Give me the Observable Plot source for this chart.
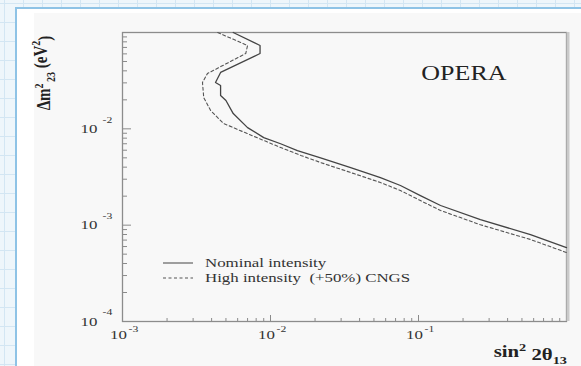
<!DOCTYPE html>
<html>
<head>
<meta charset="utf-8">
<script src="https://cdn.jsdelivr.net/npm/d3@7"></script>
<script src="https://cdn.jsdelivr.net/npm/@observablehq/plot@0.6"></script>
<style>
  html, body { margin: 0; padding: 0; }
  body {
    width: 581px; height: 366px; overflow: hidden; position: relative;
    background-color: #eef6fb;
    background-image:
      linear-gradient(#d3e6f3 1px, transparent 1px),
      linear-gradient(90deg, #d3e6f3 1px, transparent 1px);
    background-size: 19px 19px;
    background-position: 4px 3px;
  }
  #card {
    position: absolute; left: 15px; top: 7px; width: 600px; height: 400px;
    background: #fff; border-left: 2px solid #8ec3e6; border-top: 2px solid #8ec3e6;
  }
  #sheet { position: absolute; left: 34px; top: 13px; width: 560px; height: 360px; background: #f8f8f8; }
  #chart { position: absolute; left: 0; top: 0; }
</style>
</head>
<body>
<div id="card"></div>
<div id="sheet"></div>
<div id="chart"></div>
<script>
// OPERA sensitivity to theta13: sin^2(2θ13) versus Δm^2_23, nominal and high-intensity CNGS beam
const serif = "'Liberation Serif', 'Times New Roman', serif";

const xDomain = [1e-3, 1];
const yDomain = [1e-4, 1e-1];
const xDecades = [1e-3, 1e-2, 1e-1];
const xExponents = ["-3", "-2", "-1"];
const yDecades = [1e-4, 1e-3, 1e-2];
const yExponents = ["-4", "-3", "-2"];

// Nominal intensity contour
const nominalSin2 = [5.6e-3, 8.5e-3, 8.5e-3, 4.6e-3, 4.25e-3, 4.6e-3, 4.6e-3, 5.0e-3, 5.6e-3, 7.0e-3,
  9.0e-3, 0.0117, 0.0152, 0.0218, 0.0348, 0.0553, 0.0755, 0.103, 0.141, 0.262, 0.571, 1.0];
const nominalDm2 = [0.1, 0.0733, 0.0605, 0.0385, 0.0303, 0.0282, 0.0222, 0.0197, 0.0144, 0.0103,
  8.1e-3, 7.0e-3, 5.95e-3, 5.0e-3, 3.96e-3, 3.12e-3, 2.58e-3, 2.03e-3, 1.6e-3, 1.14e-3, 7.98e-4, 5.85e-4];

// High intensity (+50%) CNGS contour
const highSin2 = [4.4e-3, 7.0e-3, 6.8e-3, 3.75e-3, 3.47e-3, 3.54e-3, 3.94e-3, 4.8e-3, 7.0e-3, 0.0117,
  0.016, 0.0218, 0.0348, 0.0553, 0.0755, 0.103, 0.141, 0.262, 0.571, 1.0];
const highDm2 = [0.1, 0.0733, 0.0605, 0.0375, 0.0303, 0.0211, 0.0155, 0.0114, 8.9e-3, 6.4e-3,
  5.3e-3, 4.47e-3, 3.52e-3, 2.77e-3, 2.29e-3, 1.8e-3, 1.42e-3, 1.01e-3, 7.1e-4, 5.2e-4];

const legendLabels = ["Nominal intensity", "High intensity  (+50%) CNGS"];
const legendDashes = [null, "3,2.5"];
const experiment = "OPERA";

const nominal = nominalSin2.map((x, i) => ({x, y: nominalDm2[i]}));
const high = highSin2.map((x, i) => ({x, y: highDm2[i]}));
const minorTicks = decades => decades.flatMap(d => d3.range(2, 10).map(m => m * d));

const stretch = 1.3;

// Legend in the lower-left corner of the frame
function legend(index, scales, values, dims) {
  const g = d3.create("svg:g").attr("font-family", serif).attr("font-size", 12.5)
    .attr("fill", "#333").attr("text-anchor", "start");
  const x0 = dims.marginLeft, y0 = dims.height - dims.marginBottom;
  legendLabels.forEach((label, i) => {
    const y = y0 - 58 + i * 15;
    g.append("line").attr("x1", x0 + 41).attr("x2", x0 + 71).attr("y1", y).attr("y2", y)
      .attr("stroke", "#555").attr("stroke-width", 1.1).attr("stroke-dasharray", legendDashes[i]);
    g.append("text").attr("transform", `translate(${x0 + 83},${y}) scale(${stretch + 0.05},1)`)
      .attr("dy", "0.35em").style("white-space", "pre").text(label);
  });
  return g.node();
}

// Axis titles with super- and subscripts
function titles(index, scales, values, dims) {
  const g = d3.create("svg:g").attr("font-family", serif).attr("fill", "#222").attr("font-weight", "bold");
  const yt = g.append("text")
    .attr("transform", `translate(${dims.marginLeft - 72},${dims.marginTop + 41}) rotate(-90) scale(1,${stretch})`)
    .attr("text-anchor", "middle").attr("font-size", 15);
  yt.append("tspan").text("Δm");
  yt.append("tspan").attr("font-size", 10).attr("dy", "-0.55em").text("2");
  yt.append("tspan").attr("font-size", 10).attr("dy", "0.95em").attr("dx", "0.15em").text("23");
  yt.append("tspan").attr("dy", "-0.4em").text(" (eV");
  yt.append("tspan").attr("font-size", 10).attr("dy", "-0.55em").text("2");
  yt.append("tspan").attr("dy", "0.55em").text(")");

  const xt = g.append("text")
    .attr("transform", `translate(${dims.width - dims.marginRight + 1},${dims.height - dims.marginBottom + 36}) scale(${stretch},1)`)
    .attr("text-anchor", "end").attr("font-size", 16);
  xt.append("tspan").text("sin");
  xt.append("tspan").attr("font-size", 11).attr("dy", "-0.55em").text("2");
  xt.append("tspan").attr("dy", "0.55em").text(" 2θ");
  xt.append("tspan").attr("font-size", 11).attr("dy", "0.35em").text("13");
  return g.node();
}

const chart = Plot.plot({
  width: 581,
  height: 366,
  marginLeft: 122,
  marginRight: 15,
  marginTop: 32,
  marginBottom: 45,
  style: {background: "transparent", fontFamily: serif, color: "#333"},
  x: {type: "log", domain: xDomain},
  y: {type: "log", domain: yDomain},
  marks: [
    Plot.axisY(minorTicks(yDecades), {tickSize: -5, stroke: "#8a8a8a", fill: "none", label: null}),
    Plot.axisY(yDecades, {tickSize: -9, stroke: "#8a8a8a", fill: "none", label: null}),
    Plot.axisX(minorTicks(xDecades), {tickSize: -3, stroke: "#8a8a8a", fill: "none", label: null}),
    Plot.axisX(xDecades, {tickSize: -6, stroke: "#8a8a8a", fill: "none", label: null}),
    // tick labels: 10 with exponent
    Plot.text(yDecades, {y: d => d, frameAnchor: "left", text: () => "10", textAnchor: "end", dx: -25, fontSize: 13, fill: "#333"}),
    Plot.text(yDecades, {y: d => d, frameAnchor: "left", text: (d, i) => yExponents[i], textAnchor: "start", dx: -20, dy: -9, fontSize: 9, fill: "#333"}),
    Plot.text(xDecades, {x: d => d, frameAnchor: "bottom", text: () => "10", textAnchor: "middle", dx: -4, dy: 17, fontSize: 13, fill: "#333"}),
    Plot.text(xDecades, {x: d => d, frameAnchor: "bottom", text: (d, i) => xExponents[i], textAnchor: "start", dx: 6, dy: 10, fontSize: 9, fill: "#333"}),
    Plot.frame({stroke: "#8c8c8c", strokeWidth: 1.3}),
    Plot.ruleX([xDomain[1]], {stroke: "#cacaca", strokeWidth: 3, dx: 1.5}),
    Plot.line(high, {x: "x", y: "y", stroke: "#555", strokeWidth: 1.1, strokeDasharray: "3,2.5"}),
    Plot.line(nominal, {x: "x", y: "y", stroke: "#444", strokeWidth: 1.3}),
    Plot.text([experiment], {frameAnchor: "top-right", text: d => d, textAnchor: "end", dx: -60, dy: 33, fontSize: 20, fill: "#222"}),
    legend,
    titles
  ]
});

// widen the Plot text glyphs horizontally
d3.select(chart).selectAll('g[aria-label="text"] text')
  .attr("transform", function () { return `${this.getAttribute("transform") || ""} scale(${stretch},1)`; });

document.getElementById("chart").appendChild(chart);
</script>
</body>
</html>
